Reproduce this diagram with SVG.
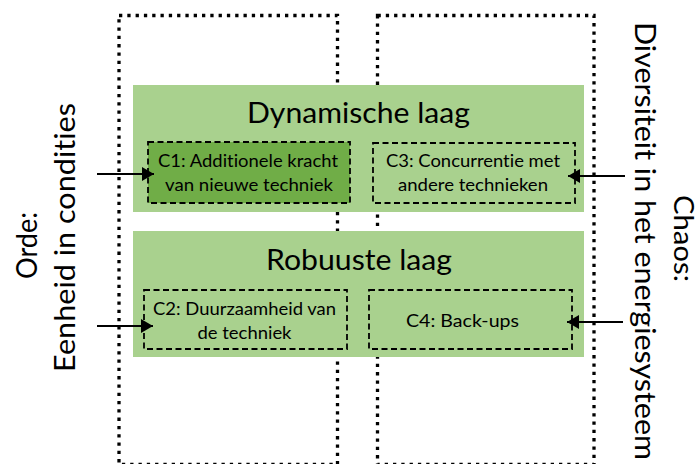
<svg xmlns="http://www.w3.org/2000/svg" width="700" height="464" viewBox="0 0 700 464">
<defs>
<style>
.col{fill:none;stroke:#000;stroke-width:3.3;stroke-dasharray:3.3 5}
.layer{fill:#a9d18e}
.box{fill:none;stroke:#000;stroke-width:1.8;stroke-dasharray:6 3.5}
.t{font-family:Lato,"Liberation Sans",sans-serif;fill:#000;text-anchor:middle;font-variant-ligatures:none}
.title{font-size:28px}
.small{font-size:18px}
.side{font-size:28px}
.conn{stroke:#000;stroke-width:2;fill:none;marker-end:url(#ah)}
</style>
<marker id="ah" viewBox="0 0 12 14" refX="12" refY="7" markerWidth="12" markerHeight="14" markerUnits="userSpaceOnUse" orient="auto">
<path d="M0,0 L12,7 L0,14 Z" fill="#000"/>
</marker>
</defs>
<rect width="700" height="464" fill="#fff"/>
<g id="col-orde"><rect class="col" x="119" y="15.5" width="218.5" height="449"/></g>
<g id="col-chaos"><rect class="col" x="377.5" y="15.5" width="216.5" height="449"/></g>
<g id="dynamische-laag">
<rect class="layer" x="133" y="85" width="451" height="127"/>
<text class="t title" x="358.5" y="123" textLength="223" lengthAdjust="spacingAndGlyphs">Dynamische laag</text>
</g>
<g id="robuuste-laag">
<rect class="layer" x="133" y="231" width="451" height="126"/>
<text class="t title" x="359" y="270" textLength="186" lengthAdjust="spacingAndGlyphs">Robuuste laag</text>
</g>
<g id="c1">
<rect x="148" y="142" width="202" height="61" fill="#70ad47"/>
<rect class="box" x="148" y="142" width="202" height="61"/>
<text class="t small" x="248" y="167" textLength="180" lengthAdjust="spacingAndGlyphs">C1: Additionele kracht</text>
<text class="t small" x="249" y="191" textLength="168" lengthAdjust="spacingAndGlyphs">van nieuwe techniek</text>
</g>
<g id="c3">
<rect class="box" x="373" y="143" width="202" height="60"/>
<text class="t small" x="473" y="167" textLength="174" lengthAdjust="spacingAndGlyphs">C3: Concurrentie met</text>
<text class="t small" x="473" y="191" textLength="150" lengthAdjust="spacingAndGlyphs">andere technieken</text>
</g>
<g id="c2">
<rect class="box" x="144" y="290" width="203" height="59"/>
<text class="t small" x="244.5" y="315" textLength="183" lengthAdjust="spacingAndGlyphs">C2: Duurzaamheid van</text>
<text class="t small" x="244.5" y="339" textLength="94" lengthAdjust="spacingAndGlyphs">de techniek</text>
</g>
<g id="c4">
<rect class="box" x="369" y="290" width="203" height="59"/>
<text class="t small" x="462.5" y="327" textLength="113" lengthAdjust="spacingAndGlyphs">C4: Back-ups</text>
</g>
<g id="orde">
<text class="t side" transform="translate(37,245.5) rotate(-90)" textLength="67" lengthAdjust="spacingAndGlyphs">Orde:</text>
<text class="t side" transform="translate(75,237.5) rotate(-90)" textLength="269" lengthAdjust="spacingAndGlyphs">Eenheid in condities</text>
</g>
<g id="chaos">
<text class="t side" style="font-size:27px" transform="translate(674,238.5) rotate(90)" textLength="87" lengthAdjust="spacingAndGlyphs">Chaos:</text>
<text class="t side" transform="translate(635,241) rotate(90)" textLength="438" lengthAdjust="spacingAndGlyphs">Diversiteit in het energiesysteem</text>
</g>
<g id="connectors">
<line class="conn" x1="97" y1="174" x2="154" y2="174"/>
<line class="conn" x1="97" y1="326" x2="153" y2="326"/>
<line class="conn" x1="625" y1="176" x2="568" y2="176"/>
<line class="conn" x1="623" y1="322" x2="567" y2="322"/>
</g>
</svg>
